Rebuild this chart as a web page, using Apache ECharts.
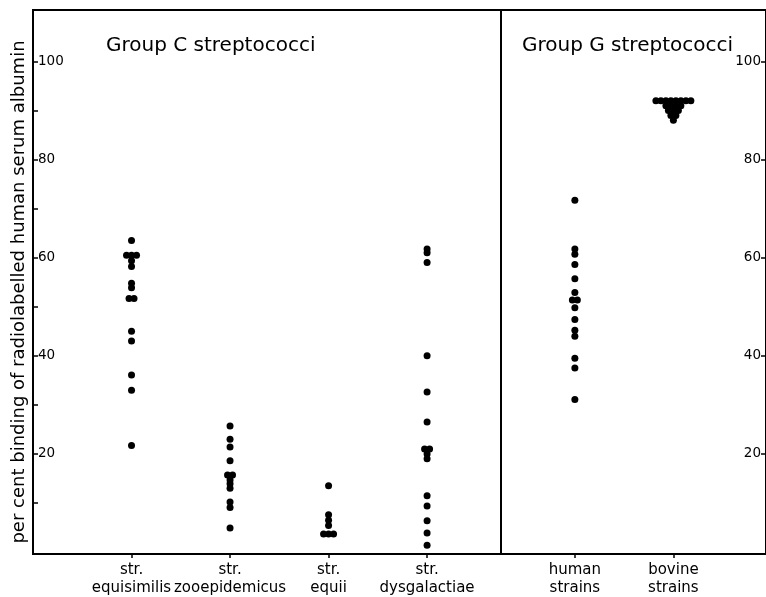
<!DOCTYPE html>
<html><head><meta charset="utf-8">
<script src="https://cdn.jsdelivr.net/npm/echarts@6/dist/echarts.min.js"></script>
<style>html,body{margin:0;padding:0;background:#fff}#c{width:766px;height:597px}</style>
</head><body><div id="c"></div>
<script>
// ---- data ----
const categories = ['str.\nequisimilis', 'str.\nzooepidemicus', 'str.\nequii', 'str.\ndysgalactiae', 'human\nstrains', 'bovine\nstrains'];
const categoryPositions = [1, 2, 3, 4, 5.5, 6.5];
const groupDivider = 4.75;
const groupTitles = ['Group C streptococci', 'Group G streptococci'];
const yAxisTitle = 'per cent binding of radiolabelled human serum albumin';
const yTickLabels = [20, 40, 60, 80, 100];
const yTicks = [10, 20, 30, 40, 50, 60, 70, 80, 90, 100];

const equisimilis = [63.5, 60.5, 60.5, 60.5, 59.4, 58.2, 54.8, 53.9, 51.7, 51.7, 45, 43, 36.1, 33, 21.7];
const zooepidemicus = [25.7, 23, 21.4, 18.6, 15.7, 15.7, 14.7, 13.9, 13, 10.2, 9.1, 4.9];
const equii = [13.5, 7.6, 6.5, 5.4, 3.7, 3.7, 3.7];
const dysgalactiae = [61.8, 61, 59, 40, 32.6, 26.5, 21, 21, 20, 19, 11.5, 9.4, 6.4, 3.9, 1.4];
const humanStrains = [71.7, 61.8, 60.7, 58.6, 55.7, 52.9, 51.4, 51.4, 49.8, 47.4, 45.2, 44, 39.5, 37.5, 31.1];
const bovineStrains = [92, 92, 92, 92, 92, 92, 92, 92, 91, 91, 91, 91, 90, 90, 90, 89, 89, 88];

const seriesValues = [equisimilis, zooepidemicus, equii, dysgalactiae, humanStrains, bovineStrains];

// ---- layout helpers ----
const STEP = 0.0507; // horizontal spread of equal values (in x units)
function spread(values, center) {
  const counts = {};
  values.forEach(v => counts[v] = (counts[v] || 0) + 1);
  const seen = {};
  return values.map(v => {
    const n = counts[v];
    const i = seen[v] || 0;
    seen[v] = i + 1;
    return [center + (i - (n - 1) / 2) * STEP, v];
  });
}

const FONT = 'DejaVu Sans';
const chart = echarts.init(document.getElementById('c'), null, {renderer: 'canvas'});

const series = seriesValues.map((vals, k) => ({
  type: 'scatter',
  data: spread(vals, categoryPositions[k]),
  symbol: 'circle',
  symbolSize: 7,
  itemStyle: {color: '#000', opacity: 1},
  silent: true,
  markLine: k === 0 ? {
    silent: true,
    symbol: ['none', 'none'],
    label: {show: false},
    lineStyle: {color: '#000', width: 2, type: 'solid'},
    data: [{xAxis: groupDivider}]
  } : undefined
}));

chart.setOption({
  animation: false,
  backgroundColor: '#fff',
  grid: {left: 33, right: -1, top: 10, bottom: 42, show: true, borderColor: '#000', borderWidth: 2, backgroundColor: 'transparent'},
  xAxis: {
    type: 'value', min: 0, max: 7.44,
    splitLine: {show: false},
    axisLine: {show: true, onZero: false, lineStyle: {color: '#000', width: 2}},
    axisTick: {show: true, customValues: categoryPositions, length: 4, lineStyle: {color: '#000', width: 1.5}},
    axisLabel: {
      show: true, customValues: categoryPositions, margin: 7, hideOverlap: false, interval: 0,
      showMinLabel: true, showMaxLabel: true,
      color: '#000', fontFamily: FONT, fontSize: 15, lineHeight: 18,
      formatter: v => { const i = categoryPositions.indexOf(v); return i >= 0 ? categories[i] : ''; }
    }
  },
  yAxis: [{
    type: 'value', position: 'left', min: -0.4, max: 110.5,
    splitLine: {show: false},
    axisLine: {show: true, onZero: false, lineStyle: {color: '#000', width: 2}},
    axisTick: {show: true, inside: true, customValues: yTicks, length: 5, lineStyle: {color: '#000', width: 1.5}},
    axisLabel: {show: true, inside: true, customValues: yTickLabels, margin: 5, color: '#000', fontFamily: FONT, fontSize: 13.5}
  }, {
    type: 'value', position: 'right', min: -0.4, max: 110.5,
    splitLine: {show: false},
    axisLine: {show: true, onZero: false, lineStyle: {color: '#000', width: 2}},
    axisTick: {show: true, inside: true, customValues: yTickLabels, length: 5, lineStyle: {color: '#000', width: 1.5}},
    axisLabel: {show: true, inside: true, customValues: yTickLabels, margin: 5, color: '#000', fontFamily: FONT, fontSize: 13.5}
  }],
  graphic: [
    {type: 'text', left: 106, top: 36, silent: true,
     style: {text: groupTitles[0], font: '20px "DejaVu Sans"', fill: '#000'}},
    {type: 'text', left: 522, top: 36, silent: true,
     style: {text: groupTitles[1], font: '20px "DejaVu Sans"', fill: '#000'}},
    {type: 'text', x: 19, y: 292, rotation: Math.PI / 2, silent: true,
     style: {text: yAxisTitle, font: '18px "DejaVu Sans"', fill: '#000', align: 'center', verticalAlign: 'middle', textAlign: 'center', textVerticalAlign: 'middle'}}
  ],
  series: series
});
</script>
</body></html>
